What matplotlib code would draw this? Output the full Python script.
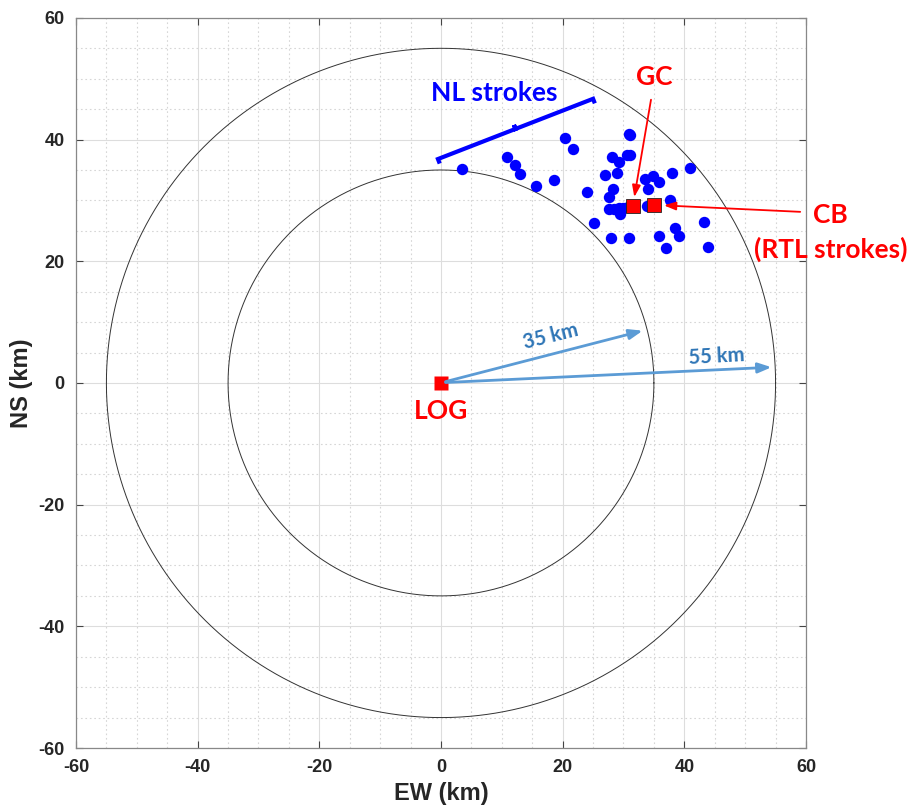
import numpy as np
import matplotlib
matplotlib.use("Agg")
import matplotlib.pyplot as plt
from matplotlib.ticker import MultipleLocator

plt.rcParams["axes.unicode_minus"] = False

# ---- data ----
nl_x = [3.4, 10.9, 12.2, 13.0, 15.6, 18.6, 20.4, 21.7, 24.0, 25.1,
        26.9, 27.7, 28.2, 29.2, 28.1, 29.0, 30.6, 31.1, 30.9, 31.1,
        27.6, 28.4, 29.2, 30.0, 29.5, 30.8, 33.5, 34.9, 35.9, 34.0,
        37.9, 41.0, 37.7, 33.9, 38.4, 39.1, 43.3, 27.9, 30.9, 35.8,
        37.0, 43.9]
nl_y = [35.1, 37.1, 35.9, 34.3, 32.3, 33.4, 40.2, 38.5, 31.3, 26.3,
        34.2, 30.5, 31.9, 36.3, 37.2, 34.5, 37.5, 37.5, 40.9, 40.7,
        28.6, 28.6, 28.8, 28.8, 27.7, 28.9, 33.6, 34.0, 33.1, 31.9,
        34.5, 35.4, 30.0, 29.0, 25.4, 24.1, 26.4, 23.9, 23.9, 24.1,
        22.1, 22.3]
log_xy = (0.0, 0.0)
gc_xy = (31.5, 29.0)
cb_xy = (35.0, 29.2)
radii = [35, 55]
ticks = [-60, -40, -20, 0, 20, 40, 60]

ann_font = "Lato"
red = "#FF0000"
blue = "#0000FF"
abl = "#5B9BD5"
tbl = "#2E75B6"

fig = plt.figure(figsize=(9.10, 8.09), dpi=100)
ax = fig.add_axes([0.0835, 0.0754, 0.8022, 0.9025])
ax.set_xlim(-60, 60)
ax.set_ylim(-60, 60)

# grid
ax.xaxis.set_minor_locator(MultipleLocator(5))
ax.yaxis.set_minor_locator(MultipleLocator(5))
ax.grid(which="major", color="#dddddd", lw=0.8, ls="-")
ax.grid(which="minor", color="#d6d6d6", lw=0.8, ls=(0, (1.5, 2.5)))
ax.set_axisbelow(True)

# circles
th = np.linspace(0, 2 * np.pi, 720)
for r in radii:
    ax.plot(r * np.cos(th), r * np.sin(th), color="#333333", lw=0.7, zorder=2)

# points
ax.plot(nl_x, nl_y, "o", color=blue, ms=8.2, mec="none", zorder=4)
ax.plot(*log_xy, "s", color=red, ms=10, mec="none", zorder=5)
for p in (gc_xy, cb_xy):
    ax.plot(*p, "s", color=red, ms=10.5, mec="#222222", mew=0.6, zorder=5)

# radius arrows
ax.annotate("", xy=(33.6, 8.7), xytext=(0.3, 0.1),
            arrowprops=dict(arrowstyle="-|>,head_length=0.8,head_width=0.3",
                            color=abl, lw=2), zorder=6)
ax.annotate("", xy=(54.8, 2.6), xytext=(0.3, 0.05),
            arrowprops=dict(arrowstyle="-|>,head_length=0.8,head_width=0.3",
                            color=abl, lw=2), zorder=6)
ax.text(18.0, 7.7, "35 km", color=tbl, fontsize=14.5, fontweight="bold",
        family=ann_font, rotation=14, ha="center", va="center")
ax.text(45.3, 4.3, "55 km", color=tbl, fontsize=14.5, fontweight="bold",
        family=ann_font, rotation=3, ha="center", va="center")

# labels
big = 19
ax.text(0, -4.6, "LOG", color=red, fontsize=big, fontweight="bold",
        family=ann_font, ha="center", va="center")
ax.text(35.0, 50.3, "GC", color=red, fontsize=big, fontweight="bold",
        family=ann_font, ha="center", va="center")
ax.annotate("", xy=(31.7, 30.1), xytext=(34.6, 47.0),
            arrowprops=dict(arrowstyle="-|>,head_length=0.7,head_width=0.25",
                            color=red, lw=1.3), zorder=6)
ax.text(64.0, 27.6, "CB", color=red, fontsize=big, fontweight="bold",
        family=ann_font, ha="center", va="center", clip_on=False)
ax.text(64.0, 21.9, "(RTL strokes)", color=red, fontsize=big, fontweight="bold",
        family=ann_font, ha="center", va="center", clip_on=False)
ax.annotate("", xy=(36.2, 29.2), xytext=(59.5, 28.1),
            arrowprops=dict(arrowstyle="-|>,head_length=0.7,head_width=0.25",
                            color=red, lw=1.3), annotation_clip=False, zorder=6)

# NL strokes brace
a = np.array([-0.5, 36.8])
b = np.array([25.0, 46.7])
d = (b - a) / np.linalg.norm(b - a)
perp = np.array([d[1], -d[0]])
m = (a + b) / 2
pts = np.array([a + perp * 0.8, a, m, m - perp * 0.7, m, b, b + perp * 0.8])
ax.plot(pts[:, 0], pts[:, 1], color=blue, lw=3, solid_joinstyle="miter",
        solid_capstyle="butt", zorder=5)
ax.text(8.7, 47.6, "NL strokes", color=blue, fontsize=big, fontweight="bold",
        family=ann_font, ha="center", va="center")

# axes styling
ax.set_xticks(ticks)
ax.set_yticks(ticks)
ax.tick_params(which="major", direction="in", length=5, width=0.8,
               top=True, right=True, colors="#444444", pad=8)
ax.tick_params(which="minor", length=0, top=True, right=True)
for lab in ax.get_xticklabels() + ax.get_yticklabels():
    lab.set_fontweight("bold")
    lab.set_fontsize(13)
    lab.set_color("#262626")
    lab.set_family("Liberation Sans")
for s in ax.spines.values():
    s.set_color("#888888")
    s.set_linewidth(0.9)

ax.set_xlabel("EW (km)", fontsize=17, fontweight="bold", family="Liberation Sans",
              color="#262626", labelpad=4)
ax.set_ylabel("NS (km)", fontsize=17, fontweight="bold", family="Liberation Sans",
              color="#262626", labelpad=4)

fig.savefig("out.png", dpi=100)
